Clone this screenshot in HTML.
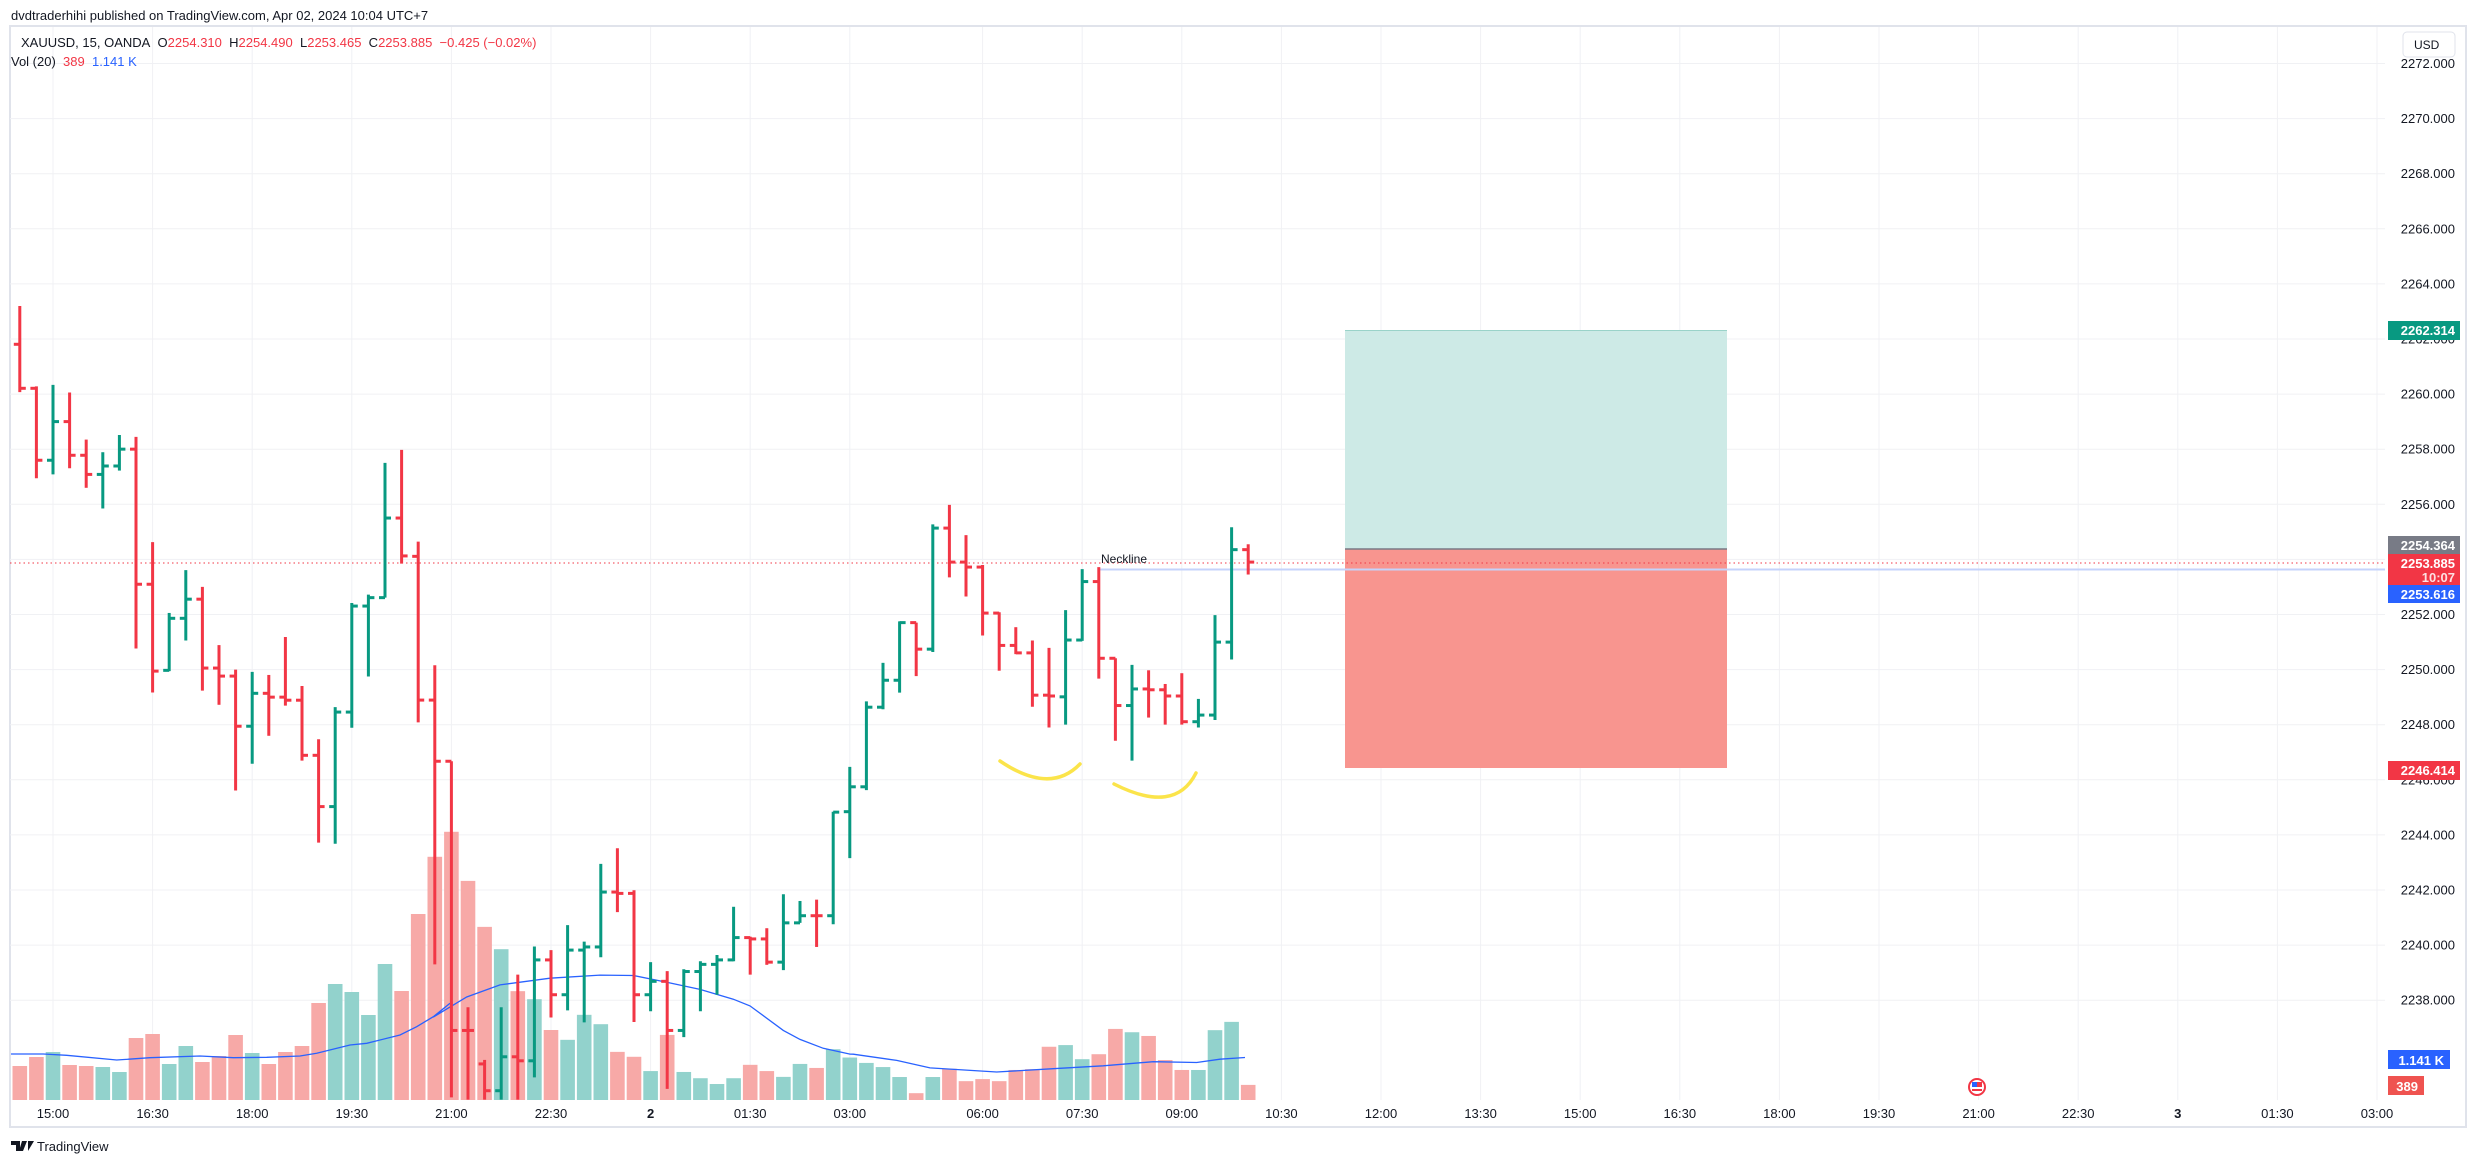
<!DOCTYPE html>
<html><head><meta charset="utf-8">
<style>
html,body{margin:0;padding:0;background:#fff;}
body{width:2475px;height:1163px;overflow:hidden;font-family:"Liberation Sans",sans-serif;}
svg text{font-family:"Liberation Sans",sans-serif;}
</style></head>
<body>
<svg id="s" width="2475" height="1163" xmlns="http://www.w3.org/2000/svg">
<defs><clipPath id="pc"><rect x="11" y="27" width="2374" height="1073"/></clipPath></defs>
<rect x="0" y="0" width="2475" height="1163" fill="#fff"/>
<text x="11" y="20" font-size="13" fill="#131722">dvdtraderhihi published on TradingView.com, Apr 02, 2024 10:04 UTC+7</text>
<rect x="10" y="26" width="2456" height="1101" fill="none" stroke="#e0e3eb" stroke-width="2"/>
<g id="grid"></g>
<g id="vol" clip-path="url(#pc)"></g>
<polyline id="ma" fill="none" stroke="#2962ff" stroke-width="1.3" clip-path="url(#pc)"/>
<rect x="1345" y="330" width="382" height="219" fill="#cdeae6"/>
<line x1="1345" y1="330.5" x2="1727" y2="330.5" stroke="#9ad3c9" stroke-width="1"/>
<rect x="1345" y="549" width="382" height="219" fill="#f8958f"/>
<line x1="1345" y1="549" x2="1727" y2="549" stroke="#787b86" stroke-width="1.5"/>
<line x1="10" y1="563" x2="2385" y2="563" stroke="#f23645" stroke-width="1" stroke-dasharray="1.5,3"/>
<line x1="1099" y1="569.5" x2="2385" y2="569.5" stroke="#c5d3fb" stroke-width="2"/>
<text x="1101" y="563" font-size="12" fill="#131722">Neckline</text>
<g id="bars" clip-path="url(#pc)"></g>
<path d="M1000,761 Q1050,795 1080,764" fill="none" stroke="#fbe44a" stroke-width="3.5" stroke-linecap="round"/>
<path d="M1114,784 Q1175,815 1196,773" fill="none" stroke="#fbe44a" stroke-width="3.5" stroke-linecap="round"/>
<g id="axis"></g>
<text x="21" y="47" font-size="13" fill="#131722">XAUUSD, 15, OANDA&#160; O<tspan fill="#f23645">2254.310</tspan>&#160; H<tspan fill="#f23645">2254.490</tspan>&#160; L<tspan fill="#f23645">2253.465</tspan>&#160; C<tspan fill="#f23645">2253.885</tspan>&#160; <tspan fill="#f23645">−0.425 (−0.02%)</tspan></text>
<text x="11" y="66" font-size="13" fill="#131722">Vol (20)&#160; <tspan fill="#f23645">389</tspan>&#160; <tspan fill="#2962ff">1.141 K</tspan></text>
<rect x="2403" y="32" width="52" height="25" rx="4" fill="#fff" stroke="#e0e3eb"/>
<text x="2414" y="49" font-size="12" fill="#131722">USD</text>
<circle cx="1977" cy="1087" r="8" fill="#fff" stroke="#f23645" stroke-width="2"/>
<rect x="1972" y="1082" width="5" height="5" fill="#2962ff"/><rect x="1977" y="1082" width="5" height="5" fill="#f23645"/><rect x="1972" y="1089" width="10" height="2" fill="#f23645"/>
<path d="M11,1141 h9 v10 h-4 v-6 h-5z M22,1141 h5 l-4,10 h-4z M28,1141 h6 l-6,10z" fill="#131722"/>
<text x="37" y="1151" font-size="13" fill="#131722">TradingView</text>
</svg>
<script>
const NS="http://www.w3.org/2000/svg";
function el(p,tag,a,txt){const e=document.createElementNS(NS,tag);for(const k in a)e.setAttribute(k,a[k]);if(txt!==undefined)e.textContent=txt;p.appendChild(e);return e;}
const Y=p=>118.6+(2270-p)*27.55;
const X=i=>53+i*16.6;
const grid=document.getElementById('grid');
for(let p=2238;p<=2272;p+=2){el(grid,'line',{x1:10,x2:2385,y1:Y(p),y2:Y(p),stroke:'#f0f1f4','stroke-width':1});}
const tl=[[0,'15:00'],[6,'16:30'],[12,'18:00'],[18,'19:30'],[24,'21:00'],[30,'22:30'],[36,'2'],[42,'01:30'],[48,'03:00'],[56,'06:00'],[62,'07:30'],[68,'09:00'],[74,'10:30'],[80,'12:00'],[86,'13:30'],[92,'15:00'],[98,'16:30'],[104,'18:00'],[110,'19:30'],[116,'21:00'],[122,'22:30'],[128,'3'],[134,'01:30'],[140,'03:00']];
const ax=document.getElementById('axis');
tl.forEach(([i,t])=>{el(grid,'line',{x1:X(i),x2:X(i),y1:27,y2:1100,stroke:'#f0f1f4','stroke-width':1});
 el(ax,'text',{x:X(i),y:1118,'font-size':13,fill:'#131722','text-anchor':'middle','font-weight':(t=='2'||t=='3')?'bold':'normal'},t);});
for(let p=2238;p<=2272;p+=2){el(ax,'text',{x:2455,y:Y(p)+4.5,'font-size':13,fill:'#131722','text-anchor':'end'},p.toFixed(3));}
function lab(y,h,c,t,t2){el(ax,'rect',{x:2388,y:y,width:72,height:h,fill:c});el(ax,'text',{x:2455,y:y+14,'font-size':13,'font-weight':'bold',fill:'#fff','text-anchor':'end'},t);if(t2)el(ax,'text',{x:2455,y:y+28,'font-size':13,'font-weight':'bold',fill:'#fde0e2','text-anchor':'end'},t2);}
lab(321,19,'#089981','2262.314');
lab(536,18,'#787b86','2254.364');
lab(554,31,'#f23645','2253.885','10:07');
lab(585,18,'#2962ff','2253.616');
lab(761,19,'#f23645','2246.414');
el(ax,'rect',{x:2388,y:1050,width:62,height:19,fill:'#2962ff'});el(ax,'text',{x:2444,y:1065,'font-size':13,'font-weight':'bold',fill:'#fff','text-anchor':'end'},'1.141 K');
el(ax,'rect',{x:2388,y:1076,width:36,height:19,fill:'#ef5350'});el(ax,'text',{x:2418,y:1091,'font-size':13,'font-weight':'bold',fill:'#fff','text-anchor':'end'},'389');
const z=(k,v)=>k==4?280+v/2.613:k==5?430+v/2.24:480+v/2.412;
const B=[
[4,'r',168,68,293,283],[4,'r',283,278,518,471],[4,'g',471,274,508,370],[4,'r',370,294,492,458],[4,'r',458,417,543,508],[4,'g',508,450,597,486],[4,'g',486,405,498,442],[4,'r',442,410,963,795],[4,'r',795,685,1078,1022],[4,'g',1020,870,1022,884],[4,'g',884,758,942,834],[4,'r',834,802,1073,1014],[4,'r',1014,954,1110,1035],[4,'r',1035,1018,1334,1166],[4,'g',1166,1024,1264,1080],[4,'r',1080,1032,1191,1090],[4,'r',1090,933,1112,1098],[4,'r',1098,1061,1256,1242],[4,'r',1242,1200,1470,1376],[4,'g',1376,1116,1473,1129],[4,'g',1129,844,1170,852],[4,'g',852,822,1036,830],[4,'g',830,478,830,622],[4,'r',622,444,741,721],[5,'r',283,250,655,605],[5,'r',605,527,1197,742],
[5,'r',742,742,1495,1345],[5,'r',1345,1293,1500,1345],[5,'r',1420,1411,1500,1480],[5,'g',1480,1293,1500,1404],[5,'r',1404,1220,1500,1413],[5,'g',1413,1157,1450,1187],[5,'r',1187,1165,1316,1265],[5,'g',1265,1109,1300,1165],[5,'g',1165,1146,1327,1158],[5,'g',1158,972,1181,1035],[5,'r',1035,937,1080,1038],[5,'r',1038,1031,1326,1265],[5,'g',1265,1192,1302,1235],[5,'r',1235,1212,1476,1345],[5,'g',1345,1208,1360,1213],[5,'g',1213,1190,1302,1197],[5,'g',1197,1176,1265,1187],[5,'g',1187,1068,1190,1137],[5,'r',1137,1135,1220,1140],[5,'r',1140,1116,1198,1192],[5,'g',1192,1040,1210,1104],[5,'g',1104,1055,1104,1088],[5,'r',1088,1052,1158,1088],[5,'g',1088,855,1107,856],
[6,'g',800,692,912,740],[6,'g',740,534,748,548],[6,'g',548,441,553,483],[6,'g',483,341,513,344],[6,'r',344,344,473,408],[6,'g',408,107,415,116],[6,'r',116,60,235,198],[6,'r',198,133,281,210],[6,'r',210,205,375,321],[6,'r',321,319,460,399],[6,'r',399,355,420,417],[6,'r',417,387,547,519],[6,'r',519,405,597,521],[6,'g',523,314,590,386],[6,'g',386,215,388,245],[6,'r',245,210,479,430],[6,'r',430,430,629,544],[6,'g',544,446,677,504],[6,'r',504,459,573,506],[6,'r',506,492,590,521],[6,'r',521,466,590,583],[6,'g',583,528,597,567],[6,'g',567,326,579,391],[6,'g',391,114,433,168],[6,'r',168,155,228,198]];
const V7=[[-2,'r',498],[-1,'r',471],[0,'g',456],[1,'r',495],[2,'r',498],[3,'g',501],[4,'g',516],[5,'r',414],[6,'r',402],[7,'g',492],[8,'g',438],[9,'r',486],[10,'r',468],[11,'r',405],[12,'g',459],[13,'r',492],[14,'r',456],[15,'r',438],[16,'r',309],[17,'g',252],[18,'g',276],[19,'g',345],[20,'g',192],[21,'r',273],[22,'r',42]];
const vol=document.getElementById('vol');
function vb(i,c,y){el(vol,'rect',{x:X(i)-7.3,y:y,width:14.6,height:1100-y,fill:c=='g'?'#92d2cc':'#f7a9a7'});}
V7.forEach(([i,c,v])=>vb(i,c,900+v/3));
const V5=[956,900,1010,1113,1163,1257,1275,1344,1366,1310,1331,1393,1404,1436,1355,1438,1452,1465,1452,1422,1436,1449,1420,1429];
V5.forEach((v,k)=>{const i=23+k;vb(i,B[i+2][1],430+v/2.24);});
const V6=[1373,1393,1406,1416,1440,1479,1440,1420,1450,1445,1450,1423,1421,1367,1363,1397,1385,1324,1332,1341,1399,1423,1423,1327,1307,1459];
V6.forEach((v,k)=>{const i=47+k;vb(i,B[i+2][1],480+v/2.412);});
const bars=document.getElementById('bars');
B.forEach((b,k)=>{const i=k-2,x=X(i),c=b[1]=='g'?'#089981':'#f23645';const [o,h,l,cl]=[b[2],b[3],b[4],b[5]].map(v=>z(b[0],v));
 el(bars,'line',{x1:x,x2:x,y1:h,y2:Math.min(l,1100),stroke:c,'stroke-width':3});
 el(bars,'line',{x1:x-6,x2:x,y1:o,y2:o,stroke:c,'stroke-width':3});
 el(bars,'line',{x1:x,x2:x+6,y1:cl,y2:cl,stroke:c,'stroke-width':3});});
const pts=[];
[[30,462],[130,462],[200,466],[350,480],[450,473],[600,468],[700,473],[800,472],[900,468],[950,460],[1050,435],[1100,430],[1200,405],[1250,380],[1300,350],[1350,310]].forEach(([x,y])=>pts.push([x/3,900+y/3]));
[[100,1315],[200,1270],[300,1243],[450,1228],[600,1221],[700,1222],[800,1237],[900,1253],[1000,1275],[1050,1290],[1150,1345],[1200,1365],[1270,1385],[1350,1398]].forEach(([x,y])=>pts.push([400+x/3,430+y/2.24]));
[[100,1385],[230,1400],[330,1418],[530,1428],[700,1420],[850,1413],[1000,1403],[1130,1405],[1200,1397],[1275,1393]].forEach(([x,y])=>pts.push([820+x/3,480+y/2.412]));
document.getElementById('ma').setAttribute('points',pts.map(p=>p[0].toFixed(1)+','+p[1].toFixed(1)).join(' '));
</script>
</body></html>
